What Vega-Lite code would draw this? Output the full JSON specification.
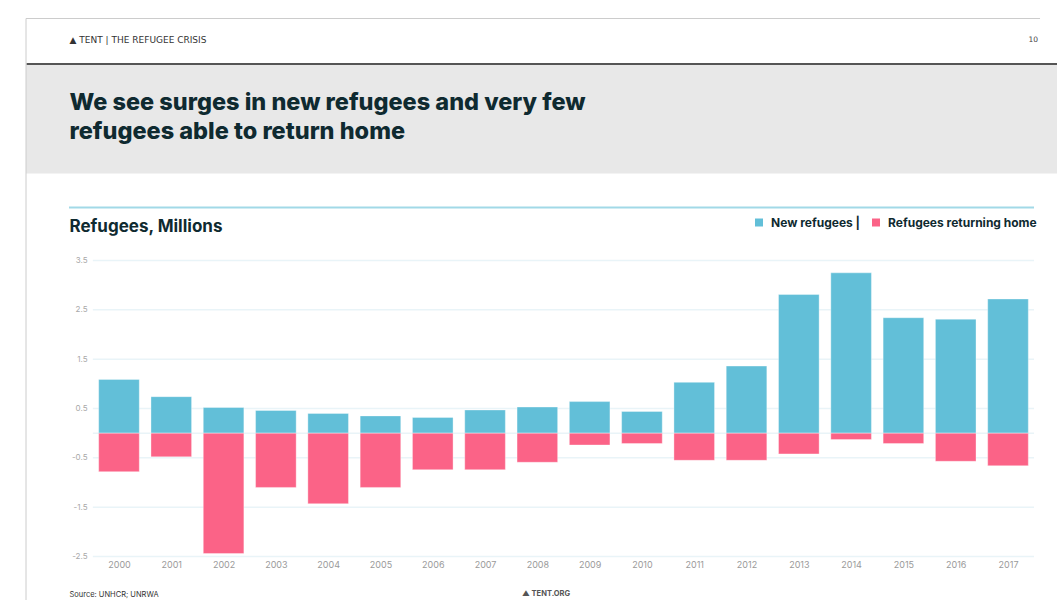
{
  "$schema": "https://vega.github.io/schema/vega-lite/v6.json",
  "background": "white",
  "padding": {"left": 23, "top": 17.5, "right": 0, "bottom": 0},
  "config": {
    "font": "Inter",
    "view": {"stroke": null},
    "axis": {"labelFont": "Inter", "titleFont": "Inter"},
    "legend": {"labelFont": "Inter"},
    "title": {"font": "Inter"}
  },
  "spacing": 87,
  "bounds": "flush",
  "vconcat": [
    {
      "width": 1034,
      "height": 110,
      "view": {"fill": "#e8e8e8", "stroke": null},
      "title": {"text": "10", "orient": "top", "anchor": "end", "dx": -22, "offset": -25, "fontSize": 7.5, "fontWeight": "normal", "color": "#444444", "font": "DejaVu Sans"},
      "layer": [
        {
          "data": {"values": [{"a": 0, "b": 0}]},
          "mark": {"type": "point", "opacity": 0},
          "encoding": {
            "x": {
              "field": "a", "type": "quantitative", "scale": {"domain": [0, 1]},
              "axis": {"orient": "top", "domain": true, "domainColor": "#555555", "domainWidth": 2, "ticks": false, "labels": false, "grid": false,
                "title": "▲  TENT | THE REFUGEE CRISIS", "titleX": 43, "titleY": -24, "titleAlign": "left", "titleAnchor": "start", "titleBaseline": "middle",
                "titleFont": "DejaVu Sans", "titleFontSize": 9, "titleFontWeight": "normal", "titleColor": "#333333"}
            },
            "y": {
              "field": "b", "type": "quantitative", "scale": {"domain": [0, 1]},
              "axis": {"orient": "left", "domain": false, "ticks": false, "labels": false, "grid": false,
                "title": ["We see surges in new refugees and very few", "refugees able to return home"],
                "titleAngle": 0, "titleAlign": "left", "titleBaseline": "alphabetic", "titleX": 43, "titleY": 46, "titleLineHeight": 29,
                "titleFontSize": 23.5, "titleFontWeight": 800, "titleColor": "#0f2a30"}
            }
          }
        },
        {
          "data": {"values": [{"edge": "top"}]},
          "mark": {"type": "rule", "color": "#cccccc", "strokeWidth": 1},
          "encoding": {
            "x": {"datum": 0, "type": "quantitative", "scale": {"domain": [0, 1]}},
            "x2": {"datum": 0.9807},
            "y": {"datum": 1.409, "type": "quantitative", "scale": {"domain": [0, 1]}}
          }
        },
        {
          "data": {"values": [{"edge": "left"}]},
          "mark": {"type": "rule", "color": "#cccccc", "strokeWidth": 1},
          "encoding": {
            "x": {"datum": 0, "type": "quantitative", "scale": {"domain": [0, 1]}},
            "y": {"datum": 1.409, "type": "quantitative", "scale": {"domain": [0, 1]}},
            "y2": {"datum": -3.882}
          }
        }
      ]
    },
    {
      "width": 1008,
      "height": 296,
      "view": {"stroke": null},
      "title": {"text": "▲  TENT.ORG", "orient": "bottom", "anchor": "start", "dx": 496, "offset": -8, "fontSize": 7.5, "fontWeight": "bold", "color": "#555555"},
      "layer": [
        {
          "data": {"values": [{"g": -2.5}, {"g": -1.5}, {"g": -0.5}, {"g": 0}, {"g": 0.5}, {"g": 1.5}, {"g": 2.5}, {"g": 3.5}]},
          "mark": {"type": "rule", "color": "#e9f4f8", "strokeWidth": 1.5},
          "encoding": {
            "y": {"field": "g", "type": "quantitative", "scale": {"domain": [-2.5, 3.5], "nice": false, "zero": false, "padding": 0}},
            "x": {"datum": 1999.5, "type": "quantitative", "scale": {"domain": [1998.222, 2017.497], "nice": false, "zero": false, "padding": 0}},
            "x2": {"datum": 2017.497}
          }
        },
        {
          "data": {"values": [{"line": "top"}]},
          "mark": {"type": "rule", "color": "#a2d9e7", "strokeWidth": 2},
          "encoding": {
            "y": {"datum": 4.575, "type": "quantitative", "scale": {"domain": [-2.5, 3.5], "nice": false, "zero": false, "padding": 0}},
            "x": {"datum": 1999.044, "type": "quantitative", "scale": {"domain": [1998.222, 2017.497], "nice": false, "zero": false, "padding": 0}},
            "x2": {"datum": 2017.497}
          }
        },
        {
          "data": {"values": [
            {"year": 2000, "series": "New refugees", "value": 1.09},
            {"year": 2001, "series": "New refugees", "value": 0.74},
            {"year": 2002, "series": "New refugees", "value": 0.52},
            {"year": 2003, "series": "New refugees", "value": 0.46},
            {"year": 2004, "series": "New refugees", "value": 0.40},
            {"year": 2005, "series": "New refugees", "value": 0.35},
            {"year": 2006, "series": "New refugees", "value": 0.32},
            {"year": 2007, "series": "New refugees", "value": 0.47},
            {"year": 2008, "series": "New refugees", "value": 0.53},
            {"year": 2009, "series": "New refugees", "value": 0.64},
            {"year": 2010, "series": "New refugees", "value": 0.44},
            {"year": 2011, "series": "New refugees", "value": 1.03},
            {"year": 2012, "series": "New refugees", "value": 1.36},
            {"year": 2013, "series": "New refugees", "value": 2.81},
            {"year": 2014, "series": "New refugees", "value": 3.25},
            {"year": 2015, "series": "New refugees", "value": 2.34},
            {"year": 2016, "series": "New refugees", "value": 2.31},
            {"year": 2017, "series": "New refugees", "value": 2.72},
            {"year": 2000, "series": "Refugees returning home", "value": -0.78},
            {"year": 2001, "series": "Refugees returning home", "value": -0.48},
            {"year": 2002, "series": "Refugees returning home", "value": -2.44},
            {"year": 2003, "series": "Refugees returning home", "value": -1.10},
            {"year": 2004, "series": "Refugees returning home", "value": -1.43},
            {"year": 2005, "series": "Refugees returning home", "value": -1.10},
            {"year": 2006, "series": "Refugees returning home", "value": -0.74},
            {"year": 2007, "series": "Refugees returning home", "value": -0.74},
            {"year": 2008, "series": "Refugees returning home", "value": -0.59},
            {"year": 2009, "series": "Refugees returning home", "value": -0.24},
            {"year": 2010, "series": "Refugees returning home", "value": -0.21},
            {"year": 2011, "series": "Refugees returning home", "value": -0.55},
            {"year": 2012, "series": "Refugees returning home", "value": -0.55},
            {"year": 2013, "series": "Refugees returning home", "value": -0.42},
            {"year": 2014, "series": "Refugees returning home", "value": -0.13},
            {"year": 2015, "series": "Refugees returning home", "value": -0.21},
            {"year": 2016, "series": "Refugees returning home", "value": -0.57},
            {"year": 2017, "series": "Refugees returning home", "value": -0.66}
          ]},
          "mark": {"type": "bar", "orient": "vertical", "width": 40.6, "stroke": "white", "strokeOpacity": 0.35, "strokeWidth": 1},
          "encoding": {
            "x": {
              "field": "year", "type": "quantitative",
              "scale": {"domain": [1998.222, 2017.497], "nice": false, "zero": false, "padding": 0},
              "axis": {"orient": "bottom", "values": [2000, 2001, 2002, 2003, 2004, 2005, 2006, 2007, 2008, 2009, 2010, 2011, 2012, 2013, 2014, 2015, 2016, 2017],
                "format": "d", "domain": false, "ticks": false, "grid": false, "labelPadding": 4, "labelColor": "#9a9a9a", "labelFontSize": 9,
                "title": "Source: UNHCR; UNRWA", "titleX": 43, "titleY": 38, "titleAlign": "left", "titleAnchor": "start", "titleBaseline": "middle",
                "titleFontSize": 7.5, "titleFontWeight": "normal", "titleColor": "#333333"}
            },
            "y": {
              "field": "value", "type": "quantitative",
              "scale": {"domain": [-2.5, 3.5], "nice": false, "zero": false, "padding": 0},
              "axis": {"orient": "left", "offset": -67, "values": [-2.5, -1.5, -0.5, 0.5, 1.5, 2.5, 3.5],
                "labelExpr": "(datum.value < 0 ? '-' : '') + format(abs(datum.value), '.1f')",
                "domain": false, "ticks": false, "grid": false, "labelPadding": 6, "labelColor": "#a8a8a8", "labelFontSize": 8,
                "title": "Refugees, Millions", "titleAngle": 0, "titleAlign": "left", "titleBaseline": "alphabetic", "titleX": -24, "titleY": -29,
                "titleFontSize": 17, "titleFontWeight": "bold", "titleColor": "#0f2a30"}
            },
            "color": {
              "field": "series", "type": "nominal",
              "scale": {"domain": ["New refugees", "Refugees returning home"], "range": ["#62bfd8", "#fb6387"]},
              "legend": {"orient": "none", "legendX": 727, "legendY": 153, "direction": "horizontal", "title": null,
                "symbolType": "square", "symbolSize": 64, "symbolStrokeWidth": 0, "labelFontSize": 12, "labelFontWeight": "bold",
                "labelColor": "#0f2a30", "columnPadding": 4, "labelOffset": 6,
                "labelExpr": "datum.label == 'New refugees' ? 'New refugees   |' : datum.label"}
            }
          }
        }
      ]
    }
  ]
}
